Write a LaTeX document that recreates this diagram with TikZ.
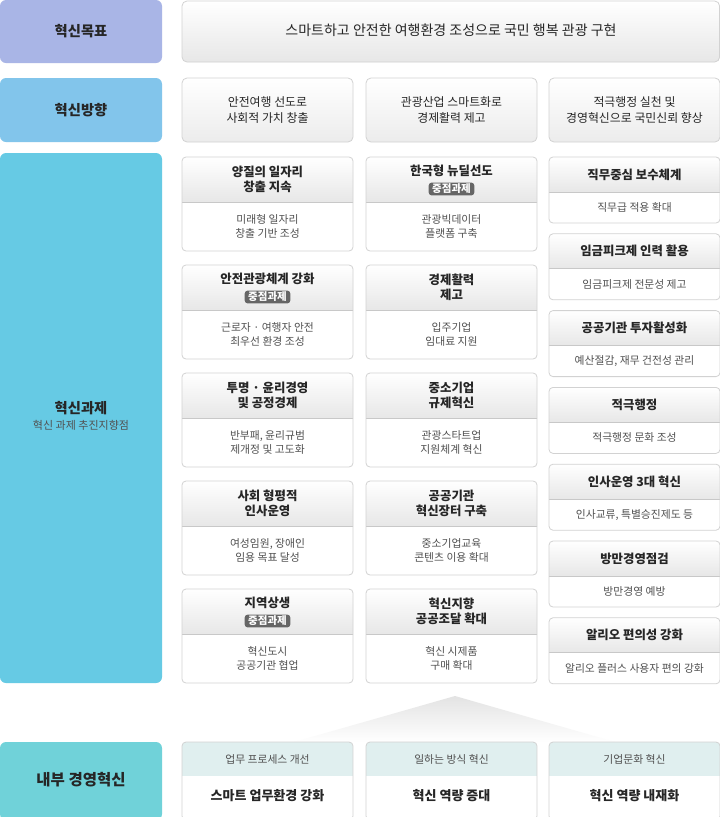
\documentclass[tikz,border=0pt]{standalone}
\usepackage{fontspec}
\setmainfont{Noto Sans CJK KR}
\definecolor{lav}{HTML}{A9B5E6}
\definecolor{dirblue}{HTML}{82C5EB}
\definecolor{taskblue}{HTML}{66CAE4}
\definecolor{intteal}{HTML}{70D2D9}
\definecolor{hdrg}{HTML}{E7E7E7}
\definecolor{bline}{HTML}{D2D2D2}
\definecolor{sline}{HTML}{C8C8C8}
\definecolor{darktxt}{HTML}{262626}
\definecolor{bodytxt}{HTML}{505050}
\definecolor{badgeg}{HTML}{666666}
\definecolor{lightteal}{HTML}{E0EFEF}
\tikzset{
  boxline/.style={draw=bline,line width=0.8pt,rounded corners=4pt},
  sepline/.style={draw=sline,line width=0.8pt},
  lblbox/.style={rounded corners=6pt},
  lbltext/.style={font=\fontsize{14.3}{16}\selectfont\bfseries,text=darktxt},
  hdrtext/.style={font=\fontsize{12.4}{15}\selectfont\bfseries,text=darktxt,align=center,inner sep=0pt},
  bodytext/.style={font=\fontsize{10.8}{14.5}\selectfont,text=bodytxt,align=center,inner sep=0pt},
  dirtext/.style={font=\fontsize{11.9}{16.5}\selectfont,text=darktxt,align=center,inner sep=0pt},
  badge/.style={fill=badgeg,text=white,rounded corners=3pt,font=\fontsize{10.5}{11}\selectfont\bfseries,inner xsep=3.5pt,inner ysep=1.5pt},
}
% name, x, y, w, h, header height, title, body
\newcommand\tbox[8]{%
  \path[fill=white,rounded corners=4pt] (#2,#3) rectangle ++(#4,#5);
  \begin{scope}
    \clip[rounded corners=4pt] (#2,#3) rectangle ++(#4,#5);
    \shade[top color=white,bottom color=hdrg] (#2,#3) rectangle ++(#4,#6);
  \end{scope}
  \draw[sepline] (#2,#3+#6) -- ++(#4,0);
  \draw[boxline] (#2,#3) rectangle ++(#4,#5);
  \node[hdrtext] (#1h) at ({#2+#4/2},{#3+#6/2}) {#7};
  \node[bodytext] (#1b) at ({#2+#4/2},{#3+(#5+#6)/2}) {#8};
}
% with badge
\newcommand\tboxb[8]{%
  \path[fill=white,rounded corners=4pt] (#2,#3) rectangle ++(#4,#5);
  \begin{scope}
    \clip[rounded corners=4pt] (#2,#3) rectangle ++(#4,#5);
    \shade[top color=white,bottom color=hdrg] (#2,#3) rectangle ++(#4,#6);
  \end{scope}
  \draw[sepline] (#2,#3+#6) -- ++(#4,0);
  \draw[boxline] (#2,#3) rectangle ++(#4,#5);
  \node[hdrtext] (#1h) at ({#2+#4/2},{#3+14}) {#7};
  \node[badge] (#1g) at ({#2+#4/2},{#3+32}) {중점과제};
  \node[bodytext] (#1b) at ({#2+#4/2},{#3+(#5+#6)/2}) {#8};
}
% bottom boxes
\newcommand\ibox[4]{%
  \path[fill=white,rounded corners=4pt] (#2,742) rectangle ++(171,78);
  \begin{scope}
    \clip[rounded corners=4pt] (#2,742) rectangle ++(171,78);
    \fill[lightteal] (#2,742) rectangle ++(171,34);
  \end{scope}
  \draw[boxline] (#2,742) rectangle ++(171,78);
  \node[font=\fontsize{10.8}{12}\selectfont,text=bodytxt,inner sep=0pt] (#1h) at ({#2+85.5},759.5) {#3};
  \node[font=\fontsize{13}{14}\selectfont\bfseries,text=darktxt,inner sep=0pt] (#1b) at ({#2+85.5},796) {#4};
}
\begin{document}
\begin{tikzpicture}[x=1pt,y=-1pt]
\useasboundingbox (0,0) rectangle (720,817);
\fill[white] (0,0) rectangle (720,817);

% left labels
\fill[lav,lblbox] (0,0) rectangle (162,63);
\node[lbltext] (goal) at (81,31.5) {혁신목표};
\fill[dirblue,lblbox] (0,78) rectangle (162,142);
\node[lbltext] (dir) at (81,110) {혁신방향};
\fill[taskblue,lblbox] (0,153) rectangle (162,683);
\node[lbltext] (task) at (81,408) {혁신과제};
\node[font=\fontsize{11}{12}\selectfont,text=darktxt!80,inner sep=0pt] (tasksub) at (81,425.5) {혁신 과제 추진지향점};
\fill[intteal,lblbox] (0,742) rectangle (162,820);
\node[font=\fontsize{15.5}{17}\selectfont\bfseries,text=darktxt] (inner) at (81,780) {내부 경영혁신};

% top goal box
\shade[top color=white,bottom color=hdrg,rounded corners=5pt] (182,1) rectangle (720,62);
\draw[boxline,rounded corners=5pt] (182,1) rectangle (719.6,62);
\node[font=\fontsize{14}{16}\selectfont,text=darktxt,inner sep=0pt] (goaltext) at (451,30) {스마트하고 안전한 여행환경 조성으로 국민 행복 관광 구현};

% direction boxes
\foreach \xx/\nm/\txt in {182/d1/{안전여행 선도로\\사회적 가치 창출},366/d2/{관광산업 스마트화로\\경제활력 제고},549/d3/{적극행정 실천 및\\경영혁신으로 국민신뢰 향상}}{
  \shade[top color=white,bottom color=hdrg!80,rounded corners=5pt] (\xx,78) rectangle ++(171,64);
  \draw[boxline,rounded corners=5pt] (\xx,78) rectangle ++(171,64);
  \node[dirtext] (\nm) at (\xx+85.5,110) {\txt};
}

% column 1
\tbox{a1}{182}{157}{171}{94}{45}{양질의 일자리\\창출 지속}{미래형 일자리\\창출 기반 조성}
\tboxb{a2}{182}{265}{171}{94}{45}{안전관광체계 강화}{근로자 · 여행자 안전\\최우선 환경 조성}
\tbox{a3}{182}{373}{171}{94}{45}{투명 · 윤리경영\\및 공정경제}{반부패, 윤리규범\\제개정 및 고도화}
\tbox{a4}{182}{481}{171}{94}{45}{사회 형평적\\인사운영}{여성임원, 장애인\\임용 목표 달성}
\tboxb{a5}{182}{589}{171}{94}{45}{지역상생}{혁신도시\\공공기관 협업}

% column 2
\tboxb{b1}{366}{157}{171}{94}{45}{한국형 뉴딜선도}{관광빅데이터\\플랫폼 구축}
\tbox{b2}{366}{265}{171}{94}{45}{경제활력\\제고}{입주기업\\임대료 지원}
\tbox{b3}{366}{373}{171}{94}{45}{중소기업\\규제혁신}{관광스타트업\\지원체계 혁신}
\tbox{b4}{366}{481}{171}{94}{45}{공공기관\\혁신장터 구축}{중소기업교육\\콘텐츠 이용 확대}
\tbox{b5}{366}{589}{171}{94}{45}{혁신지향\\공공조달 확대}{혁신 시제품\\구매 확대}

% column 3
\tbox{c1}{549}{157}{171}{66}{35}{직무중심 보수체계}{직무급 적용 확대}
\tbox{c2}{549}{233.8}{171}{66}{35}{임금피크제 인력 활용}{임금피크제 전문성 제고}
\tbox{c3}{549}{310.6}{171}{66}{35}{공공기관 투자활성화}{예산절감, 재무 건전성 관리}
\tbox{c4}{549}{387.4}{171}{66}{35}{적극행정}{적극행정 문화 조성}
\tbox{c5}{549}{464.2}{171}{66}{35}{인사운영 3대 혁신}{인사교류, 특별승진제도 등}
\tbox{c6}{549}{541}{171}{66}{35}{방만경영점검}{방만경영 예방}
\tbox{c7}{549}{617.8}{171}{66}{35}{알리오 편의성 강화}{알리오 플러스 사용자 편의 강화}

% connecting gradient triangle
\coordinate (apex) at (455,696);
\coordinate (baseL) at (294,742);
\coordinate (baseR) at (615,742);
\shade[top color=black!11,bottom color=white] (apex) -- (baseR) -- (baseL) -- cycle;

% bottom boxes
\ibox{e1}{182}{업무 프로세스 개선}{스마트 업무환경 강화}
\ibox{e2}{366}{일하는 방식 혁신}{혁신 역량 증대}
\ibox{e3}{549}{기업문화 혁신}{혁신 역량 내재화}
\end{tikzpicture}
\end{document}
